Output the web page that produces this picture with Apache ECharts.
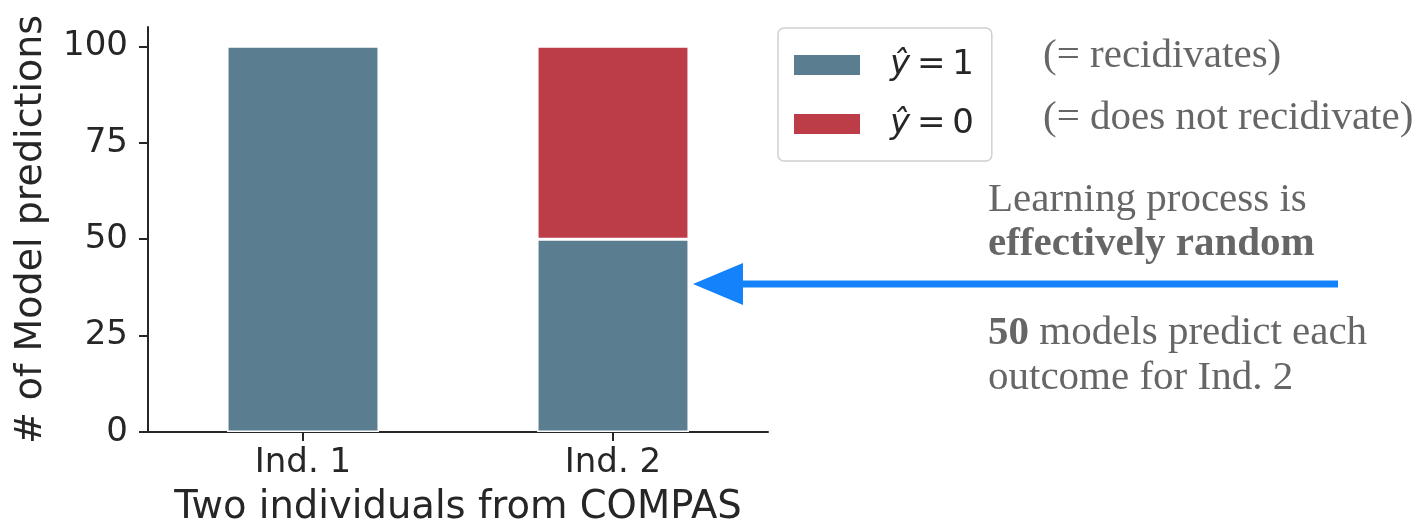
<!DOCTYPE html>
<html>
<head>
<meta charset="utf-8">
<script src="https://cdn.jsdelivr.net/npm/echarts@6/dist/echarts.min.js"></script>
<style>html,body{margin:0;padding:0;background:#fff}#c{width:1416px;height:525px}</style>
</head>
<body>
<div id="c"></div>
<script>
const categories = ['Ind. 1', 'Ind. 2'];
const seriesNames = ['ŷ = 1', 'ŷ = 0'];
const predictOne = [100, 50];
const predictZero = [0, 50];
const yTicks = [0, 25, 50, 75, 100];
const legendNotes = ['(= recidivates)', '(= does not recidivate)'];
const xTitle = 'Two individuals from COMPAS';
const yTitle = '# of Model predictions';

const colors = ['#5a7d90', '#bc3c47'];
const sans = 'DejaVu Sans';
const serif = 'Liberation Serif';
const ink = '#262626';
const gray = '#666666';
const serifSize = 41;

const chart = echarts.init(document.getElementById('c'), null, {renderer: 'canvas'});
const serifStyle = (extra) => Object.assign({font: serifSize + 'px "' + serif + '"', fill: gray}, extra || {});

chart.setOption({
  animation: false,
  backgroundColor: '#fff',
  grid: {left: 148, right: 648, top: 27, bottom: 93, containLabel: false, outerBoundsMode: 'none'},
  legend: {
    left: 778, top: 28,
    orient: 'vertical',
    itemWidth: 68, itemHeight: 22, itemGap: 23,
    padding: [19, 18, 19, 14],
    borderColor: '#d0d0d0', borderWidth: 1.5, borderRadius: 6,
    icon: 'rect',
    data: seriesNames,
    formatter: (n) => '{i|ŷ}\u2009=\u20091'.replace('1', n.slice(-1)),
    textStyle: {
      fontFamily: sans, fontSize: 34, color: ink, padding: [0, 0, 0, 24], lineHeight: 36,
      rich: {i: {fontFamily: sans, fontStyle: 'italic', fontSize: 34, color: ink}}
    }
  },
  xAxis: {
    type: 'category',
    data: categories,
    name: xTitle,
    nameLocation: 'middle',
    nameGap: 56,
    nameTextStyle: {fontFamily: sans, fontSize: 38.5, color: ink},
    axisLine: {lineStyle: {color: ink, width: 2}},
    axisTick: {show: true, alignWithLabel: true, length: 9, lineStyle: {color: ink, width: 2}},
    axisLabel: {fontFamily: sans, fontSize: 34, color: ink, margin: 14}
  },
  yAxis: {
    type: 'value',
    min: 0, max: 105, interval: 25,
    name: yTitle,
    nameLocation: 'middle',
    nameRotate: 90,
    nameGap: 98,
    nameTextStyle: {fontFamily: sans, fontSize: 38, color: ink},
    axisLine: {show: true, lineStyle: {color: ink, width: 2}},
    axisTick: {show: true, length: 9, lineStyle: {color: ink, width: 2}, customValues: yTicks},
    axisLabel: {fontFamily: sans, fontSize: 34, color: ink, margin: 20, customValues: yTicks},
    splitLine: {show: false}
  },
  series: [
    {
      name: seriesNames[0], type: 'bar', stack: 'a', data: predictOne, barWidth: '49%',
      itemStyle: {color: colors[0], borderColor: '#ffffff', borderWidth: 1.5}
    },
    {
      name: seriesNames[1], type: 'bar', stack: 'a', data: predictZero, barWidth: '49%',
      itemStyle: {color: colors[1], borderColor: '#ffffff', borderWidth: 1.5}
    }
  ],
  graphic: [
    {type: 'text', left: 1043, top: 36, style: serifStyle({text: legendNotes[0]})},
    {type: 'text', left: 1043, top: 98, style: serifStyle({text: legendNotes[1]})},
    {type: 'text', left: 988, top: 180, style: serifStyle({text: 'Learning process is'})},
    {type: 'text', left: 988, top: 224, style: serifStyle({text: 'effectively random', font: 'bold ' + serifSize + 'px "' + serif + '"'})},
    {type: 'text', left: 988, top: 313, style: {
      text: '{b|50} models predict each', font: serifSize + 'px "' + serif + '"', fill: gray,
      rich: {b: {font: 'bold ' + serifSize + 'px "' + serif + '"', fill: gray}}
    }},
    {type: 'text', left: 988, top: 358, style: serifStyle({text: 'outcome for Ind. 2'})},
    {type: 'line', shape: {x1: 1338, y1: 284, x2: 735, y2: 284}, style: {stroke: '#1482fa', lineWidth: 7}},
    {type: 'polygon', shape: {points: [[693, 284], [743, 263], [743, 305]]}, style: {fill: '#1482fa'}}
  ]
});
</script>
</body>
</html>
